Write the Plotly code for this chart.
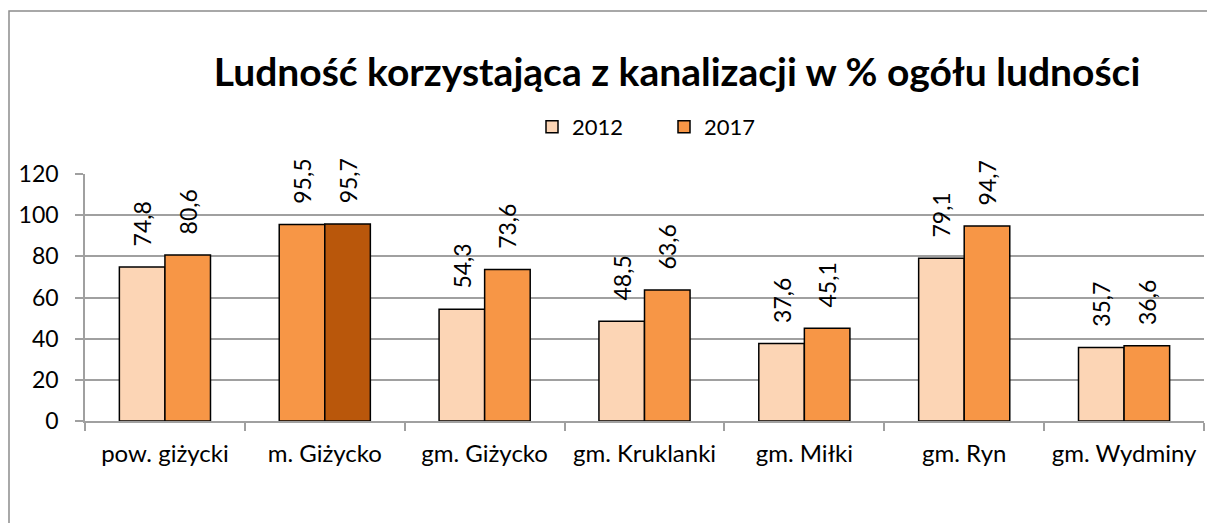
import plotly.graph_objects as go

categories = ["pow. giżycki", "m. Giżycko", "gm. Giżycko", "gm. Kruklanki",
              "gm. Miłki", "gm. Ryn", "gm. Wydminy"]
values_2012 = [74.8, 95.5, 54.3, 48.5, 37.6, 79.1, 35.7]
values_2017 = [80.6, 95.7, 73.6, 63.6, 45.1, 94.7, 36.6]
y_ticks = [0, 20, 40, 60, 80, 100, 120]

LIGHT = "#FCD5B5"
ORANGE = "#F79646"
DARK = "#B9570B"

# m. Giżycko is highlighted with a shifted palette
colors_2012 = [ORANGE if c == "m. Giżycko" else LIGHT for c in categories]
colors_2017 = [DARK if c == "m. Giżycko" else ORANGE for c in categories]

FONT = "Lato"
W, H = 1208, 524
ML, MR, MT, MB = 85, 4, 174, 103
PW, PH = W - ML - MR, H - MT - MB


def px_x(px):
    return (px - ML) / PW


def px_y(py):
    return (PH + MT - py) / PH


def fmt(v):
    # leading no-break spaces lift the rotated label off the bar top
    return "\u00a0\u00a0\u00a0" + f"{v:.1f}".replace(".", ",")


fig = go.Figure()
for name, vals, cols in [("2012", values_2012, colors_2012),
                         ("2017", values_2017, colors_2017)]:
    fig.add_trace(go.Bar(
        name=name, x=categories, y=vals,
        marker=dict(color=cols, line=dict(color="black", width=1.5)),
        text=[fmt(v) for v in vals], textposition="outside", textangle=-90,
        textfont=dict(family=FONT, size=23, color="black"),
        cliponaxis=False, constraintext="none",
    ))

# chart-area frame: left and top edges as one open path
frame_path = (f"M {px_x(9):.5f},{px_y(H - 1):.5f} "
              f"L {px_x(9):.5f},{px_y(11):.5f} "
              f"L {px_x(W - 1):.5f},{px_y(11):.5f}")

fig.update_layout(
    width=W, height=H,
    margin=dict(l=ML, r=MR, t=MT, b=MB, pad=0),
    paper_bgcolor="white", plot_bgcolor="white",
    barmode="group", bargap=0.43, bargroupgap=0,
    font=dict(family=FONT, size=23, color="black"),
    title=dict(text="<b>Ludność korzystająca z kanalizacji w % ogółu ludności</b>",
               x=677 / W, xanchor="center", y=1 - 72 / H, yanchor="middle",
               font=dict(family=FONT, size=39, color="black")),
    legend=dict(orientation="h", x=px_x(532), xanchor="left",
                y=px_y(127), yanchor="middle",
                font=dict(family=FONT, size=22), entrywidth=87,
                itemwidth=30, bgcolor="rgba(0,0,0,0)"),
    showlegend=True,
    xaxis=dict(showline=True, linecolor="#A0A0A0", linewidth=1.5,
               ticks="outside", tickson="boundaries", ticklen=8,
               tickcolor="#A0A0A0", tickwidth=1.5, ticklabelstandoff=10,
               tickfont=dict(family=FONT, size=24, color="black")),
    yaxis=dict(range=[0, 120], tickvals=y_ticks, showline=True,
               linecolor="#A0A0A0", linewidth=1.5,
               ticks="outside", ticklen=8, tickcolor="#A0A0A0", tickwidth=1.5,
               ticklabelstandoff=12,
               showgrid=True, gridcolor="#A0A0A0", gridwidth=1.5,
               zeroline=False,
               tickfont=dict(family=FONT, size=23, color="black")),
    shapes=[dict(type="path", xref="paper", yref="paper", path=frame_path,
                 line=dict(color="#8C8C8C", width=1.5),
                 fillcolor="rgba(0,0,0,0)", layer="below")],
)

fig.write_html("out.html", config={"displayModeBar": False})
